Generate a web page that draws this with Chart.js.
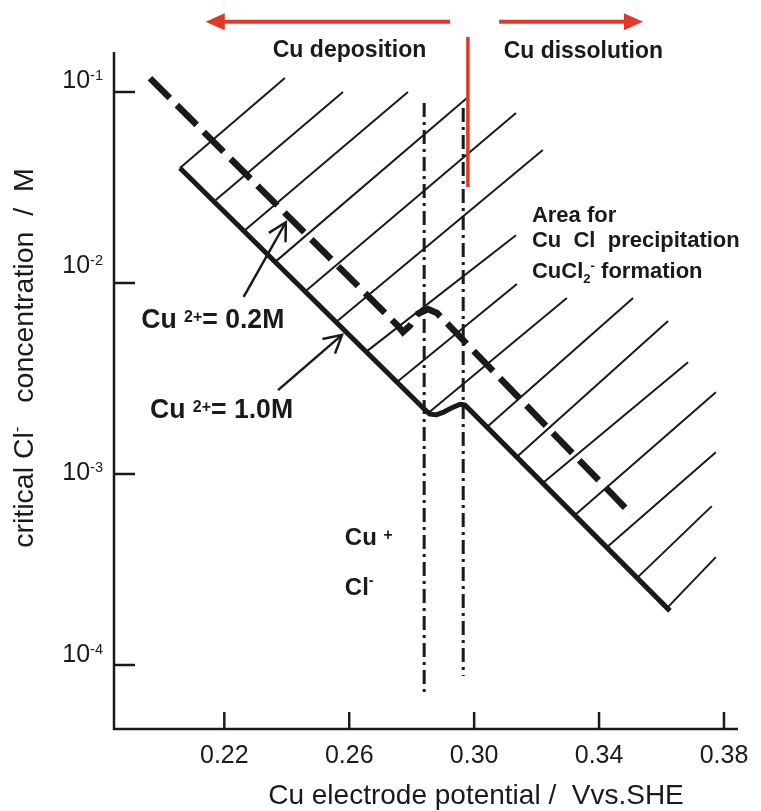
<!DOCTYPE html>
<html>
<head>
<meta charset="utf-8">
<script src="https://cdn.jsdelivr.net/npm/chart.js@4/dist/chart.umd.min.js"></script>
<style>
  html, body { margin: 0; padding: 0; background: #fff; }
  canvas { display: block; }
</style>
</head>
<body>
<canvas id="chart" width="761" height="811"></canvas>
<script>
// x: Cu electrode potential (V vs SHE), y: critical Cl- concentration (M)
const xTickValues = [0.22, 0.26, 0.30, 0.34, 0.38];
const yTickValues = [1e-1, 1e-2, 1e-3, 1e-4];
const yTickExponents = ['-1', '-2', '-3', '-4'];

// Cu2+ = 1.0M boundary (solid)
const cu10X = [0.2058, 0.2836, 0.2858, 0.2878, 0.2903, 0.2929, 0.2955, 0.2970, 0.2987, 0.3627];
const cu10Y = [0.0400, 0.00222, 0.00206, 0.00204, 0.00211, 0.00222, 0.00232, 0.00230, 0.00216, 0.000192];

// Cu2+ = 0.2M boundary (dashed)
const cu02X = [0.1962, 0.2756, 0.2772, 0.2794, 0.2820, 0.2852, 0.2881, 0.2906, 0.3506];
const cu02Y = [0.118, 0.00596, 0.00553, 0.00596, 0.00689, 0.00731, 0.00697, 0.00632, 0.000610];

// equilibrium potentials (dash-dot)
const eqX = [0.2840, 0.2965];
const eqTop = [0.0876, 0.0824];
const eqBottom = [7.22e-5, 8.75e-5];

// deposition / dissolution border (red)
const redLineX = 0.2980;
const redLineTop = 0.194;
const redLineBottom = 0.0318;
const redArrowY = 0.2333;
const redArrowX0 = [0.2923, 0.3080];
const redArrowX1 = [0.2140, 0.3541];

// hatching of the CuCl area
const hatchX0 = [0.2058, 0.2167, 0.2263, 0.2363, 0.2458, 0.2558, 0.2654, 0.2753, 0.2852, 0.3041, 0.3137, 0.3220, 0.3323, 0.3426, 0.3521, 0.3618];
const hatchY0 = [0.0400, 0.0267, 0.0187, 0.0129, 0.00901, 0.00625, 0.00436, 0.00303, 0.00208, 0.00176, 0.00123, 0.000897, 0.000610, 0.000415, 0.000285, 0.000199];
const hatchX1 = [0.2394, 0.2580, 0.2788, 0.2977, 0.3134, 0.3220, 0.3134, 0.3137, 0.3297, 0.3509, 0.3621, 0.3685, 0.3774, 0.3774, 0.3761, 0.3774];
const hatchY1 = [0.1184, 0.1, 0.1, 0.0930, 0.0776, 0.0497, 0.0178, 0.00989, 0.00834, 0.00834, 0.00632, 0.00385, 0.00268, 0.00130, 0.000679, 0.000367];

// label pointers
const pointerX0 = [0.2262, 0.2372];
const pointerY0 = [0.00845, 0.00275];
const pointerX1 = [0.2397, 0.2577];
const pointerY1 = [0.0208, 0.00535];

const INK = '#1a1a1a';
const RED = '#e2382b';
const FONT = '"Liberation Sans", Arial, Helvetica, sans-serif';

const X_MIN = 0.18468;
const X_MAX = 0.38449;
const Y_MIN = Math.pow(10, -4.3351);
const Y_MAX = Math.pow(10, -0.7906);

const notes = [
  { parts: [{ t: 'Cu deposition' }], x: 0.2355, y: 0.1525, size: 24, weight: 'bold', squeeze: 0.96 },
  { parts: [{ t: 'Cu dissolution' }], x: 0.3095, y: 0.1507, size: 24, weight: 'bold', squeeze: 0.955 },
  { parts: [{ t: 'Area for' }], x: 0.3185, y: 0.0208, size: 22, weight: 'bold' },
  { parts: [{ t: 'Cu  Cl  precipitation' }], x: 0.3185, y: 0.0154, size: 22, weight: 'bold' },
  { parts: [{ t: 'CuCl' }, { t: '2', sub: 0.22 }, { t: '-', sup: 0.36 }, { t: ' formation' }], x: 0.3185, y: 0.0106, size: 22, weight: 'bold' },
  { parts: [{ t: 'Cu ' }, { t: '2+', sup: 0.22 }, { t: '= 0.2M' }], x: 0.1934, y: 0.00581, size: 28, weight: 'bold', squeeze: 0.95, small: 0.6 },
  { parts: [{ t: 'Cu ' }, { t: '2+', sup: 0.22 }, { t: '= 1.0M' }], x: 0.1962, y: 0.00196, size: 28, weight: 'bold', squeeze: 0.95, small: 0.6 },
  { parts: [{ t: 'Cu ' }, { t: '+', sup: 0.22 }], x: 0.2586, y: 0.000425, size: 24, weight: 'bold', small: 0.65 },
  { parts: [{ t: 'Cl' }, { t: '-', sup: 0.42 }], x: 0.2586, y: 0.000232, size: 24, weight: 'bold' }
];

function richText(ctx, parts, x, y, o) {
  const size = o.size;
  const weight = o.weight || 'normal';
  const pieces = [];
  let width = 0;
  for (const p of parts) {
    const small = p.sup !== undefined || p.sub !== undefined;
    const s = small ? size * (o.small || 0.6) : size;
    ctx.font = weight + ' ' + s + 'px ' + FONT;
    const dy = p.sup !== undefined ? -p.sup * size : (p.sub !== undefined ? p.sub * size : 0);
    pieces.push({ t: p.t, s, dx: width, dy });
    width += ctx.measureText(p.t).width;
  }
  const x0 = o.align === 'right' ? -width : (o.align === 'center' ? -width / 2 : 0);
  ctx.save();
  ctx.translate(x, y);
  if (o.rotate) ctx.rotate(o.rotate);
  ctx.scale(o.squeeze || 1, 1);
  ctx.fillStyle = o.color || INK;
  ctx.textAlign = 'left';
  ctx.textBaseline = 'alphabetic';
  for (const p of pieces) {
    ctx.font = weight + ' ' + p.s + 'px ' + FONT;
    ctx.fillText(p.t, x0 + p.dx, p.dy);
  }
  ctx.restore();
}

function toPoints(xs, ys) {
  return xs.map((x, i) => ({ x, y: ys[i] }));
}

const datasets = [
  { data: toPoints(cu10X, cu10Y), borderWidth: 5, borderJoinStyle: 'round' },
  { data: toPoints(cu02X, cu02Y), borderWidth: 6.5, borderDash: [28, 10] },
  ...eqX.map((x, i) => ({
    data: [{ x, y: eqTop[i] }, { x, y: eqBottom[i] }],
    borderWidth: 3,
    borderDash: [14, 5, 3, 5]
  })),
  {
    data: [{ x: redLineX, y: redLineTop }, { x: redLineX, y: redLineBottom }],
    borderColor: RED,
    borderWidth: 3.5,
    clip: false
  },
  ...hatchX0.map((x0, i) => ({
    data: [{ x: x0, y: hatchY0[i] }, { x: hatchX1[i], y: hatchY1[i] }],
    borderWidth: 2
  }))
].map(d => ({ showLine: true, pointRadius: 0, borderColor: INK, fill: false, ...d }));

const axesPlugin = {
  id: 'axes',
  afterDraw(chart) {
    const { ctx, chartArea: a, scales: { x, y } } = chart;
    ctx.save();
    ctx.strokeStyle = INK;
    ctx.lineWidth = 2.5;
    ctx.lineJoin = 'miter';
    ctx.beginPath();
    ctx.moveTo(a.left, a.top);
    ctx.lineTo(a.left, a.bottom);
    ctx.lineTo(a.right, a.bottom);
    ctx.stroke();

    for (const v of xTickValues) {
      const px = x.getPixelForValue(v);
      ctx.beginPath();
      ctx.moveTo(px, a.bottom);
      ctx.lineTo(px, a.bottom - 17);
      ctx.stroke();
      richText(ctx, [{ t: v.toFixed(2) }], px, a.bottom + 34, { size: 25, align: 'center' });
    }

    const labelShift = [-4, -10, 6, -3];
    yTickValues.forEach((v, i) => {
      const py = y.getPixelForValue(v);
      ctx.beginPath();
      ctx.moveTo(a.left, py);
      ctx.lineTo(a.left + 21, py);
      ctx.stroke();
      richText(ctx, [{ t: '10' }, { t: yTickExponents[i], sup: 0.3 }], a.left - 11, py + labelShift[i],
        { size: 25, align: 'right', small: 0.58 });
    });

    richText(ctx, [{ t: 'Cu electrode potential /  Vvs.SHE' }], 476, 804, { size: 28, align: 'center' });
    richText(ctx, [{ t: 'critical Cl' }, { t: '-', sup: 0.38 }, { t: '   concentration  /  M' }], 33, 358,
      { size: 28.5, align: 'center', rotate: -Math.PI / 2 });
    ctx.restore();
  }
};

function arrowLine(ctx, x0, y0, x1, y1, head, filled) {
  const ang = Math.atan2(y1 - y0, x1 - x0);
  ctx.beginPath();
  ctx.moveTo(x0, y0);
  ctx.lineTo(filled ? x1 - Math.cos(ang) * head * 0.8 : x1, filled ? y1 - Math.sin(ang) * head * 0.8 : y1);
  ctx.stroke();
  const wing = filled ? 0.42 : 0.5;
  const ax = x1 - Math.cos(ang - wing) * head;
  const ay = y1 - Math.sin(ang - wing) * head;
  const bx = x1 - Math.cos(ang + wing) * head;
  const by = y1 - Math.sin(ang + wing) * head;
  ctx.beginPath();
  ctx.moveTo(ax, ay);
  ctx.lineTo(x1, y1);
  ctx.lineTo(bx, by);
  if (filled) {
    ctx.closePath();
    ctx.fill();
  } else {
    ctx.stroke();
  }
}

const notesPlugin = {
  id: 'notes',
  afterDraw(chart) {
    const { ctx, scales: { x, y } } = chart;
    ctx.save();
    ctx.lineCap = 'butt';

    ctx.strokeStyle = RED;
    ctx.fillStyle = RED;
    ctx.lineWidth = 4;
    const ry = y.getPixelForValue(redArrowY);
    redArrowX0.forEach((v, i) => {
      arrowLine(ctx, x.getPixelForValue(v), ry, x.getPixelForValue(redArrowX1[i]), ry, 21, true);
    });

    ctx.strokeStyle = INK;
    ctx.lineWidth = 2.5;
    pointerX0.forEach((v, i) => {
      arrowLine(ctx, x.getPixelForValue(v), y.getPixelForValue(pointerY0[i]),
        x.getPixelForValue(pointerX1[i]), y.getPixelForValue(pointerY1[i]), 20, false);
    });

    for (const n of notes) {
      richText(ctx, n.parts, x.getPixelForValue(n.x), y.getPixelForValue(n.y), n);
    }
    ctx.restore();
  }
};

new Chart(document.getElementById('chart'), {
  type: 'scatter',
  data: { datasets },
  options: {
    responsive: false,
    animation: false,
    events: [],
    layout: { padding: { left: 114, right: 23, top: 52, bottom: 82 } },
    plugins: { legend: { display: false }, tooltip: { enabled: false } },
    elements: { line: { tension: 0 } },
    scales: {
      x: { type: 'linear', min: X_MIN, max: X_MAX, display: false },
      y: { type: 'logarithmic', min: Y_MIN, max: Y_MAX, display: false }
    }
  },
  plugins: [axesPlugin, notesPlugin]
});
</script>
</body>
</html>
